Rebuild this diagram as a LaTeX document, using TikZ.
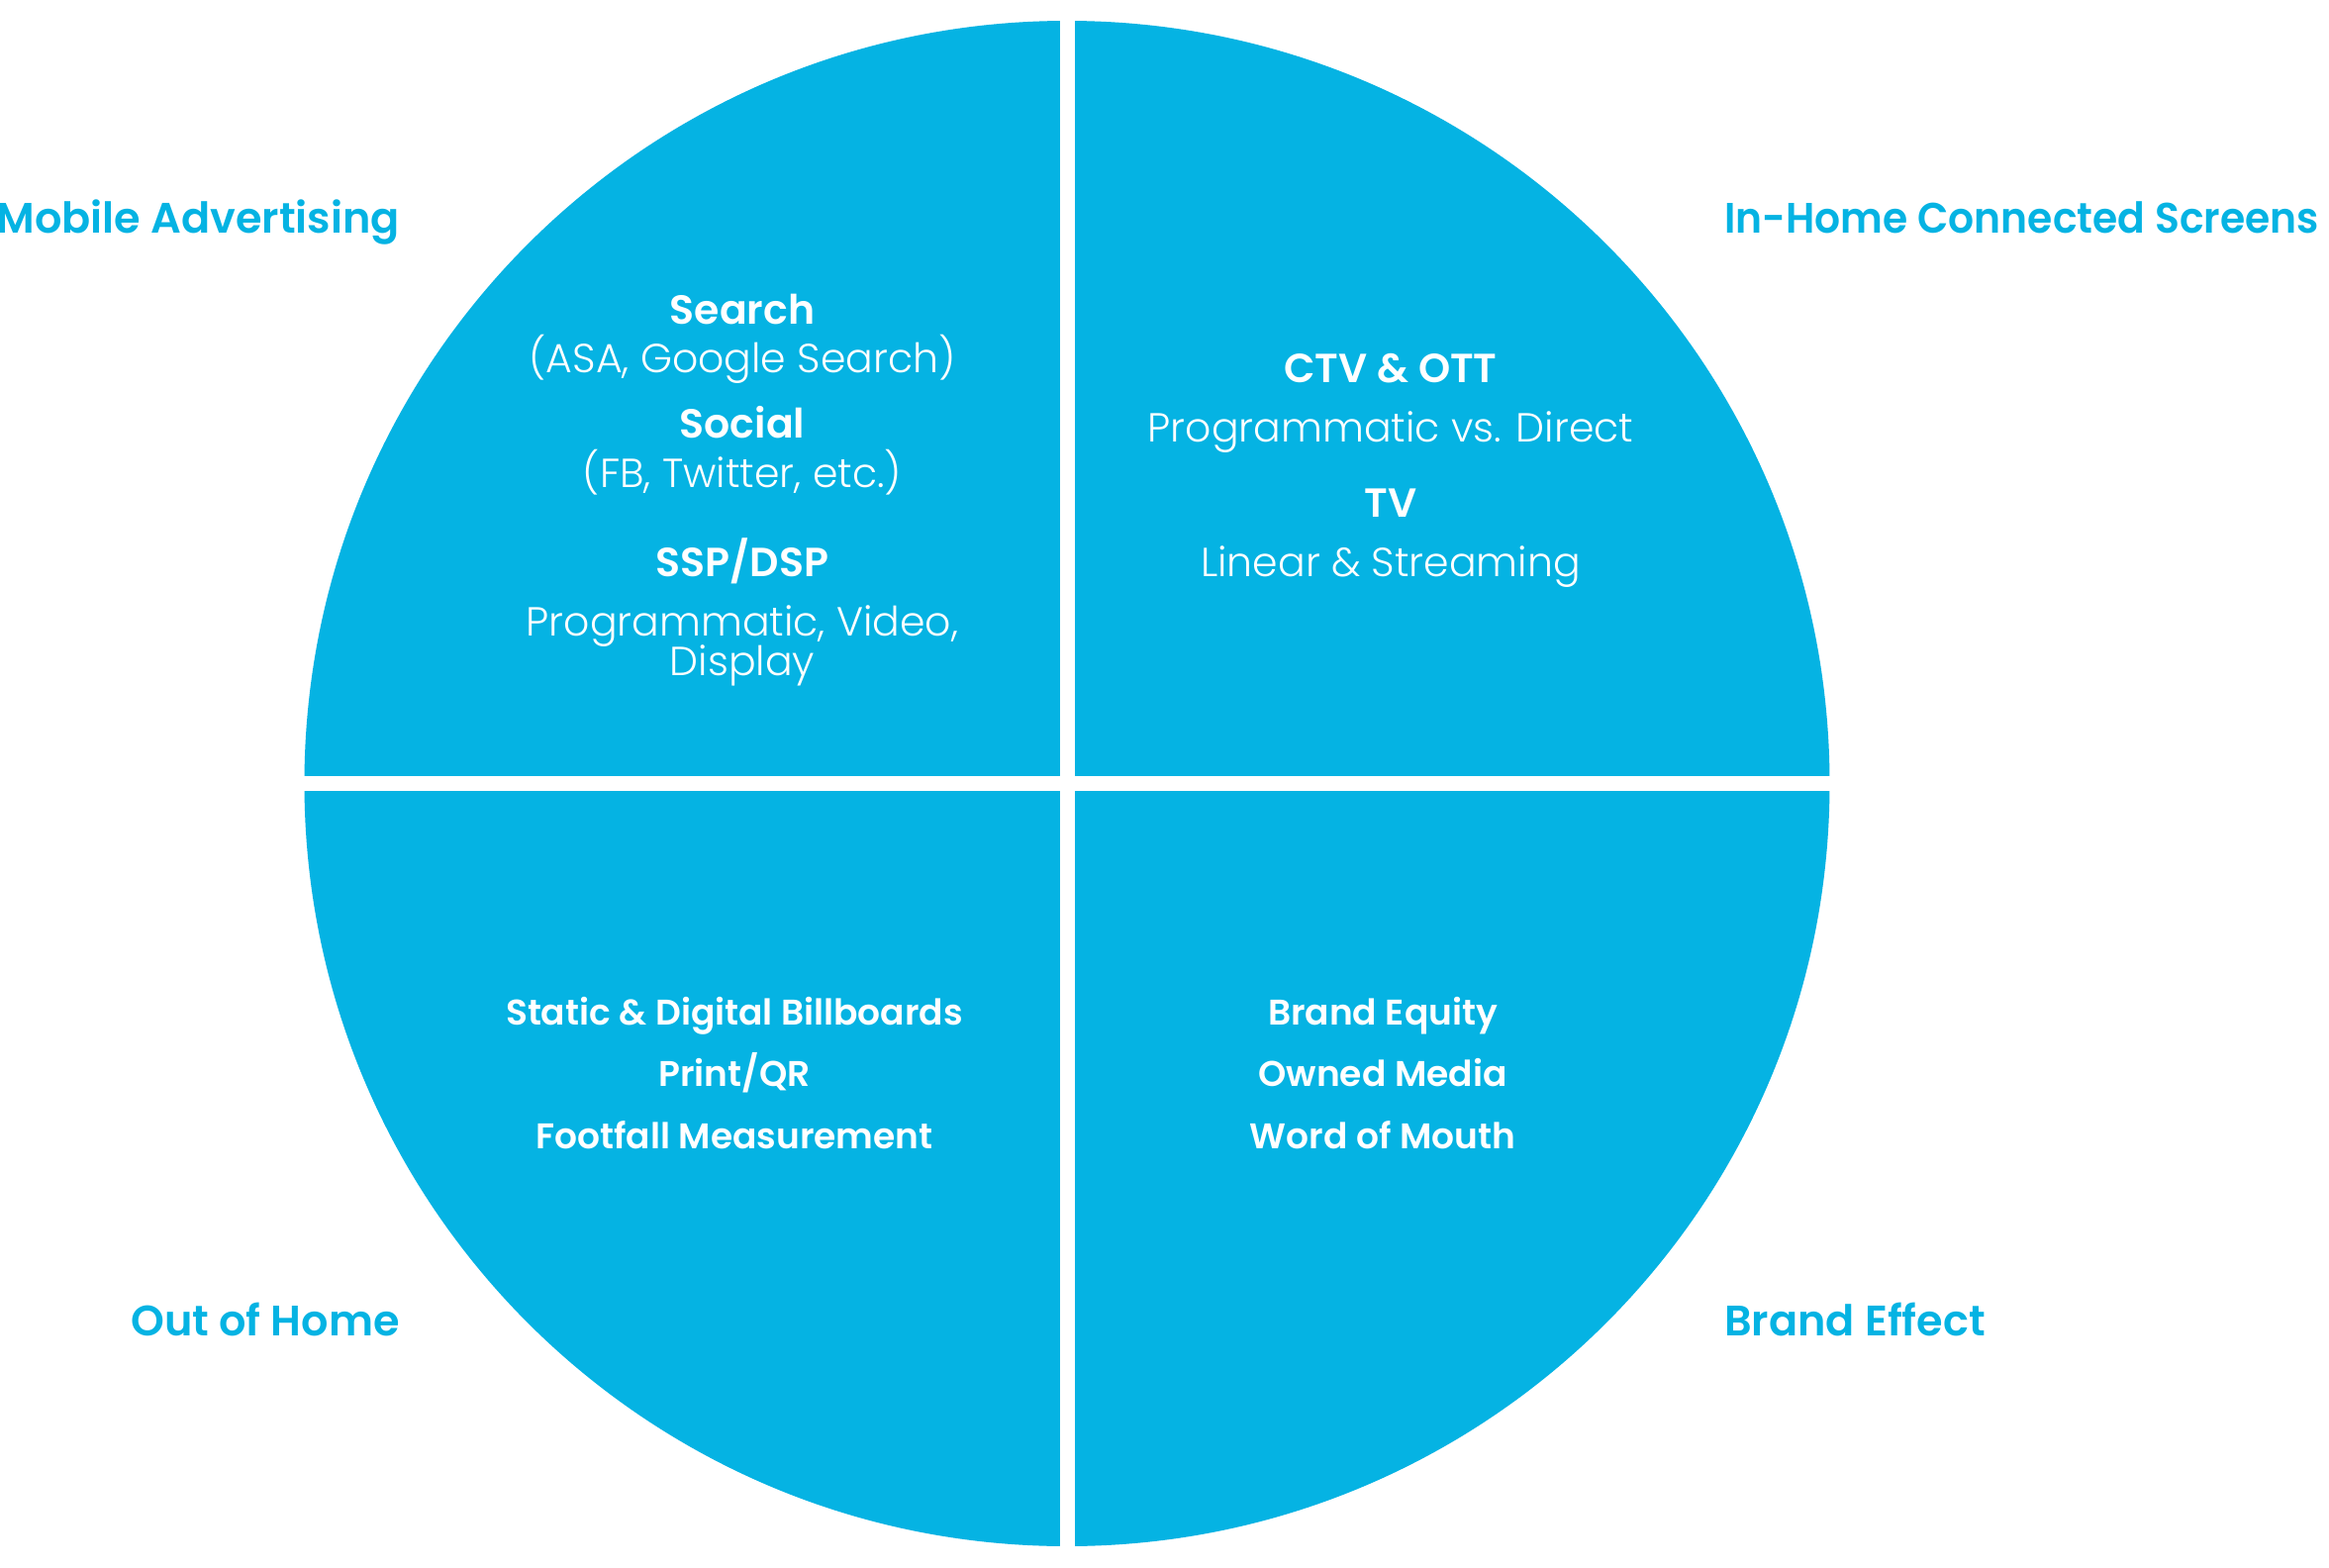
\documentclass[tikz,border=0pt]{standalone}
\usepackage{fontspec}
\setmainfont{Poppins}[UprightFont=* Light, BoldFont=* SemiBold]
\definecolor{brand}{RGB}{5,179,227}
\begin{document}
\begin{tikzpicture}[x=1pt,y=-1pt,
  quad/.style={fill=brand},
  gapbar/.style={fill=white},
  outer/.style={text=brand,font=\fontsize{43}{43}\selectfont\bfseries,inner sep=0pt},
  head/.style={text=white,font=\fontsize{41}{41}\selectfont\bfseries,inner sep=0pt,anchor=base},
  sub/.style={text=white,font=\fontsize{41}{41}\selectfont,inner sep=0pt,anchor=base},
  item/.style={text=white,font=\fontsize{36}{36}\selectfont\bfseries,inner sep=0pt,anchor=base}]
\useasboundingbox (0,0) rectangle (2353,1584);
\fill[white] (0,0) rectangle (2353,1584);
\coordinate (c) at (1078,791.5);
\fill[quad] (c) circle[radius=770.5pt];
\fill[gapbar] (1070.5,0) rectangle (1085.5,1584);
\fill[gapbar] (0,784) rectangle (2353,799);
% outer labels
\node[outer,anchor=base east] (mob) at (404,235) {Mobile Advertising};
\node[outer,anchor=base west] (ihc) at (1742,235) {\scalebox{0.95}[1]{In-Home Connected Screens}};
\node[outer,anchor=base east] (ooh) at (404,1349) {Out of Home};
\node[outer,anchor=base west] (bef) at (1742,1349) {Brand Effect};
% top-left
\node[head] (search) at (750,327) {Search};
\node[sub] (searchd) at (750,376) {(ASA, Google Search)};
\node[head] (social) at (750,442) {Social};
\node[sub] (sociald) at (750,492) {(FB, Twitter, etc.)};
\node[head] (ssp) at (750,582) {SSP/DSP};
\node[sub] (sspd) at (750,642) {Programmatic, Video,};
\node[sub] (sspd2) at (750,682) {Display};
% top-right
\node[head] (ctv) at (1405,386) {CTV \& OTT};
\node[sub] (ctvd) at (1405,446) {Programmatic vs. Direct};
\node[head] (tv) at (1405,522) {TV};
\node[sub] (tvd) at (1405,582) {Linear \& Streaming};
% bottom-left
\node[item] (bl1) at (742,1035) {Static \& Digital Billboards};
\node[item] (bl2) at (742,1097) {Print/QR};
\node[item] (bl3) at (742,1160) {Footfall Measurement};
% bottom-right
\node[item] (br1) at (1397,1035) {Brand Equity};
\node[item] (br2) at (1397,1097) {Owned Media};
\node[item] (br3) at (1397,1160) {Word of Mouth};
\end{tikzpicture}
\end{document}
